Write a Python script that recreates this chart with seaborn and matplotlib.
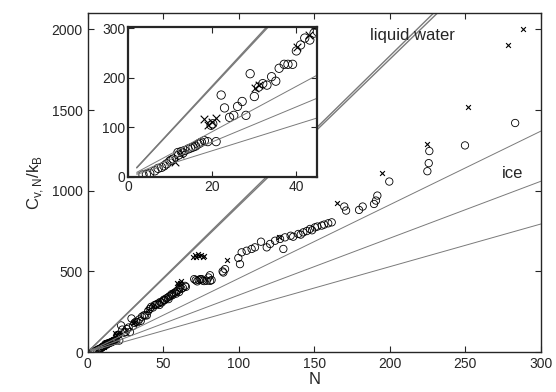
import numpy as np
import pandas as pd
import seaborn as sns
import matplotlib
matplotlib.use("Agg")
import matplotlib.pyplot as plt

# circles
circle_N = [3.5, 4.3, 5.1, 6.3, 7.1, 7.9, 8.5, 9.1, 9.9, 10.3, 10.7, 11.8, 12.0, 12.6, 13.0, 13.4,
            14.2, 14.8, 15.4, 16.0, 16.6, 17.0, 17.4, 18.1, 18.9, 20.9, 19.7, 20.1, 22.1, 22.9,
            24.1, 25.1, 26.0, 27.1, 28.0, 29.0, 30.0, 31.0, 32.0, 33.0, 34.1, 35.1, 35.9, 37.1,
            38.0, 39.1, 40.0, 41.0, 42.0, 43.2, 44.2, 45.0,
            46, 47, 47.5, 48, 49, 50, 50.5, 51, 52, 53, 53.5, 54, 55, 55.6, 56, 57, 58, 58.5,
            59, 60, 60.5, 61, 62, 63, 64.4, 65,
            70.5, 71.5, 72.5, 73.5, 74.5, 75.4, 76, 77, 78.8, 80, 80.9, 82, 81,
            89.3, 89.8, 90.9, 99.7, 100.8, 101.9,
            105.2, 108.5, 110.7, 114.7, 118.5, 120.7, 124, 127.3, 129.5, 130.6, 134.3, 136,
            139.4, 141, 142.7, 145, 147.1, 148.5, 150.4, 152, 154.9, 156.5, 159.2, 161.5,
            169.8, 171, 179.6, 182, 189.5, 190.8, 191.7, 199.6, 224.8, 225.7, 226.1, 249.7, 282.9]
circle_C = [4, 5, 7, 12, 17, 19, 22, 26, 32, 34, 36, 49, 44, 51, 48, 53,
            56, 58, 60, 62, 66, 68, 70, 73, 71, 71, 104, 107, 165, 139,
            120, 124, 142, 152, 124, 208, 162, 181, 188, 185, 202, 193, 219, 227,
            227, 227, 254, 266, 280, 276, 290, 293,
            298, 302, 292, 310, 307, 318, 325, 322, 332, 338, 328, 345, 350, 359, 352, 365, 370, 362,
            378, 385, 372, 400, 392, 398, 410, 404,
            452, 445, 438, 447, 452, 452, 444, 440, 442, 462, 476, 446, 441,
            500, 493, 514, 583, 545, 618,
            628, 639, 649, 684, 649, 670, 690, 701, 639, 711, 721, 715,
            732, 728, 742, 750, 763, 755, 773, 778, 784, 790, 798, 804,
            902, 877, 881, 902, 918, 939, 970, 1057, 1121, 1171, 1246, 1281, 1420]

# crosses
cross_N = [11, 12.2, 18.1, 18.9, 20.9, 20, 30.2, 31.2, 40.2, 43, 59, 60, 61, 62,
           70, 71, 72, 73, 74, 75, 76, 77, 92, 126.8, 164.8, 194.6, 224.3, 251.9, 278.4, 288.3]
cross_C = [30, 46, 117, 104, 118, 110, 179, 185, 261, 286, 431, 421, 428, 440,
           592, 600, 590, 605, 595, 600, 590, 598, 572, 711, 922, 1109, 1287, 1519, 1903, 2000]

# reference lines, values at N = 2 and N = 300
line_N = [2, 300]
water_a = [18.2, 2724]
water_b = [18.4, 2754]
ice_1 = [9, 1370]
ice_2 = [7, 1059]
ice_3 = [5, 794]

circles = pd.DataFrame({"N": circle_N, "C": circle_C})
crosses = pd.DataFrame({"N": cross_N, "C": cross_C})

sns.set_style("ticks")
plt.rcParams["font.family"] = ["Liberation Sans", "DejaVu Sans"]
plt.rcParams["mathtext.fontset"] = "custom"
plt.rcParams["mathtext.rm"] = "Liberation Sans"
plt.rcParams["xtick.direction"] = "in"
plt.rcParams["ytick.direction"] = "in"

fig = plt.figure(figsize=(5.56, 3.92), dpi=100)
ax = fig.add_axes([0.1577, 0.102, 0.8153, 0.864])
ins = fig.add_axes([0.2308, 0.549, 0.3400, 0.383], zorder=5)


def draw(a, cs, xs, lw_ms):
    for yy, lw in [(water_a, 1.0), (water_b, 1.0), (ice_1, 0.7), (ice_2, 0.7), (ice_3, 0.7)]:
        sns.lineplot(x=line_N, y=yy, ax=a, color="#7a7a7a", linewidth=lw)
    sns.scatterplot(data=circles, x="N", y="C", ax=a, marker="o", s=cs,
                    facecolor="none", edgecolor="black", linewidth=0.6)
    sns.scatterplot(data=crosses, x="N", y="C", ax=a, marker="x", s=xs,
                    color="black", linewidth=0.8)


draw(ax, 28, 12, 1)
ax.set_xlim(0, 300)
ax.set_ylim(0, 2100)
ax.set_xticks(range(0, 301, 50))
ax.set_yticks(range(0, 2001, 500))
ax.tick_params(labelsize=10, top=True, right=True, length=4, width=0.8)
ax.set_xlabel("N", fontsize=12, labelpad=1)
ax.set_ylabel(r"C$_{\mathregular{v,N}}$/k$_{\mathregular{B}}$", fontsize=12, labelpad=4)
for s in ax.spines.values():
    s.set_linewidth(1.0)
ax.text(215, 1965, "liquid water", fontsize=12, ha="center", va="center")
ax.text(281, 1107, "ice", fontsize=12, ha="center", va="center")

draw(ins, 36, 30, 1)
ins.set_facecolor("white")
ins.set_xlim(0, 45)
ins.set_ylim(0, 303)
ins.set_xticks([0, 20, 40])
ins.set_yticks([0, 100, 200, 300])
ins.tick_params(labelsize=10, top=True, right=True, length=4, width=0.8, pad=2)
ins.set_xlabel("")
ins.set_ylabel("")
for s in ins.spines.values():
    s.set_linewidth(1.6)

fig.savefig("out.png", dpi=100)
